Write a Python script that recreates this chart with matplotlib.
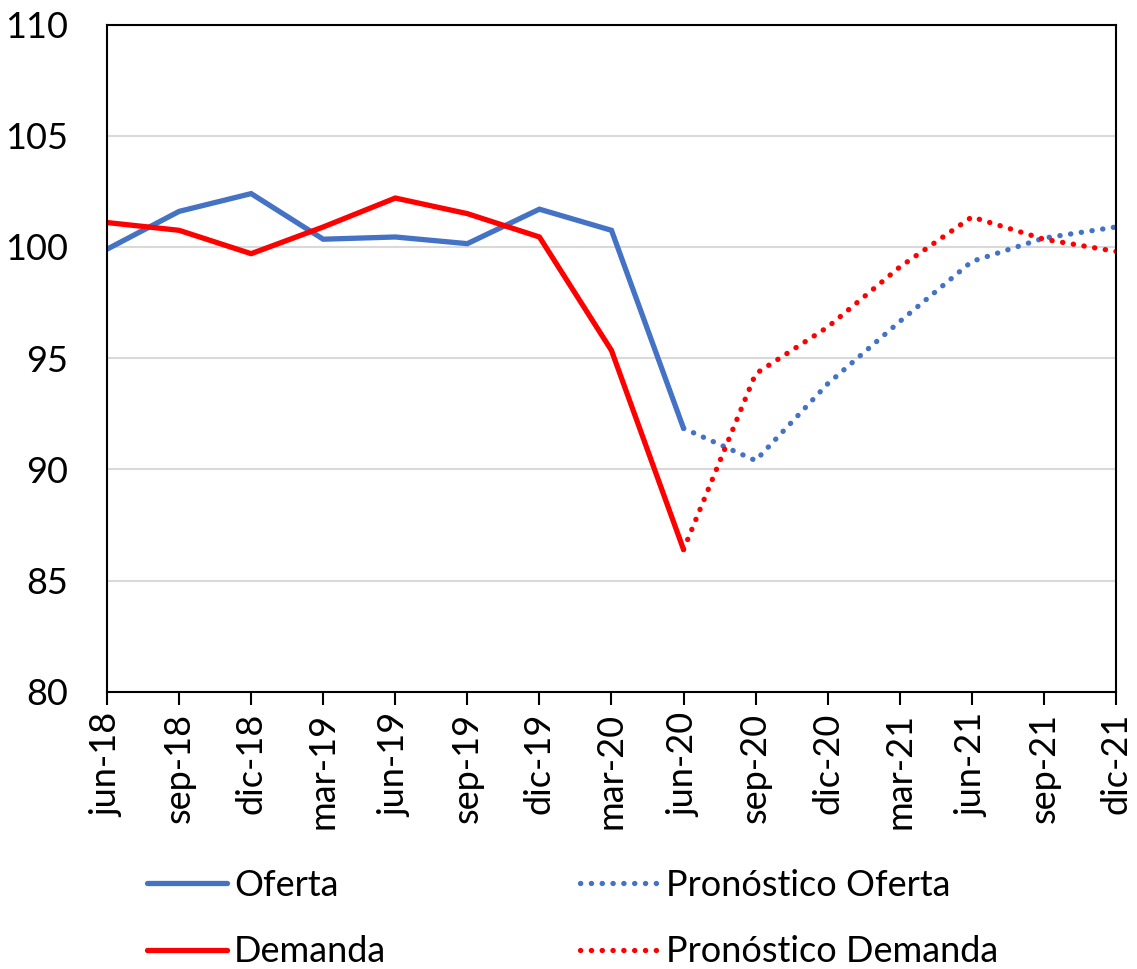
import matplotlib.pyplot as plt
import numpy as np

# datos
trimestres = ['jun-18', 'sep-18', 'dic-18', 'mar-19', 'jun-19', 'sep-19', 'dic-19',
              'mar-20', 'jun-20', 'sep-20', 'dic-20', 'mar-21', 'jun-21', 'sep-21', 'dic-21']
oferta = [99.9, 101.6, 102.4, 100.35, 100.45, 100.15, 101.7, 100.75, 91.85]
demanda = [101.1, 100.75, 99.7, 100.9, 102.2, 101.5, 100.45, 95.35, 86.4]
pron_oferta = [91.85, 90.4, 93.85, 96.65, 99.35, 100.4, 100.9]
pron_demanda = [86.4, 94.3, 96.4, 99.1, 101.35, 100.35, 99.8]

azul = '#4472C4'
rojo = '#FF0000'

plt.rcParams['font.family'] = ['Lato', 'DejaVu Sans']

fig = plt.figure(figsize=(11.37, 9.69), dpi=100)
ax = fig.add_axes([0.0941, 0.2859, 0.8874, 0.6888])

x_real = np.arange(len(oferta))
x_pron = np.arange(len(oferta) - 1, len(trimestres))

l1, = ax.plot(x_real, oferta, color=azul, linewidth=3.8, solid_capstyle='round',
              solid_joinstyle='miter', label='Oferta')
l2, = ax.plot(x_real, demanda, color=rojo, linewidth=3.8, solid_capstyle='round',
              solid_joinstyle='miter', label='Demanda')
l3, = ax.plot(x_pron, pron_oferta, color=azul, linewidth=3.8, linestyle=(0, (0.05, 2.0)),
              dash_capstyle='round', label='Pronóstico Oferta')
l4, = ax.plot(x_pron, pron_demanda, color=rojo, linewidth=3.8, linestyle=(0, (0.05, 2.0)),
              dash_capstyle='round', label='Pronóstico Demanda')

ax.set_xlim(0, len(trimestres) - 1)
ax.set_ylim(80, 110)
ax.set_yticks(np.arange(80, 111, 5))
ax.set_xticks(np.arange(len(trimestres)))
ax.set_xticklabels(trimestres, rotation=90)
ax.tick_params(axis='x', length=9, width=1.5, direction='out', labelsize=26, pad=6)
ax.tick_params(axis='y', length=0, labelsize=26, pad=28)
ax.yaxis.grid(True, color='#D9D9D9', linewidth=1.5)
ax.set_axisbelow(True)
for s in ax.spines.values():
    s.set_linewidth(1.5)
    s.set_color('black')

fig.legend(handles=[l1, l2, l3, l4], loc='upper left', bbox_to_anchor=(0.117, 0.118),
           ncol=2, frameon=False, fontsize=26, handlelength=2.2, handletextpad=0.2,
           columnspacing=5.35, labelspacing=0.92, borderaxespad=0)

fig.savefig('out.png', dpi=100)
